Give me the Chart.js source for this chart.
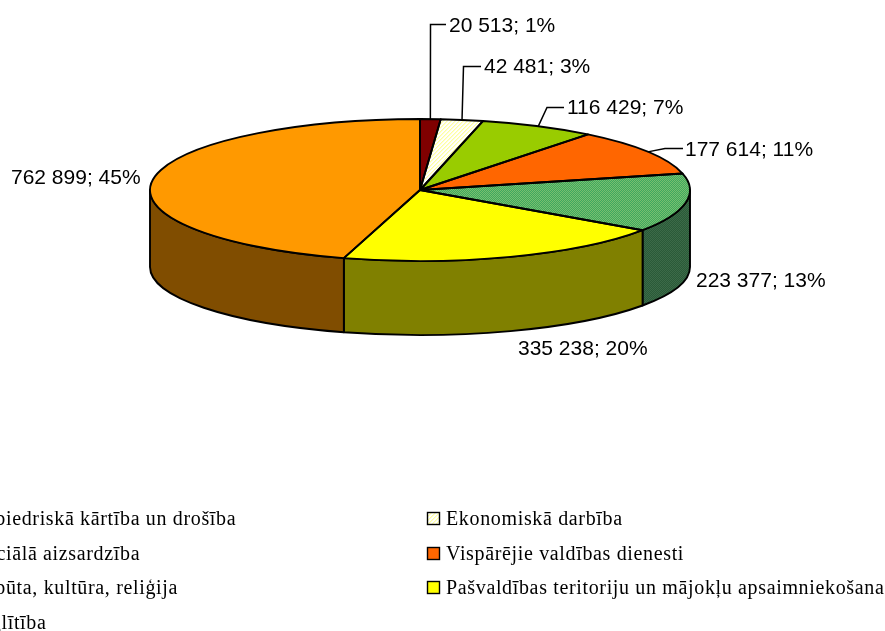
<!DOCTYPE html>
<html><head><meta charset="utf-8">
<style>html,body{margin:0;padding:0;background:#fff;overflow:hidden}canvas{display:block}</style>
<script src="https://cdn.jsdelivr.net/npm/chart.js@4"></script>
</head><body><canvas id="c" width="885" height="631"></canvas>
<script>
const categories = ["Sabiedriskā kārtība un drošība","Ekonomiskā darbība","Sociālā aizsardzība","Vispārējie valdības dienesti","Atpūta, kultūra, reliģija","Pašvaldības teritoriju un mājokļu apsaimniekošana","Izglītība"];
const values = [20513,42481,116429,177614,223377,335238,762899];
const percents = [1,3,7,11,13,20,45];
const valueLabels = ["20 513","42 481","116 429","177 614","223 377","335 238","762 899"];
// label placement: [text left, text middle y], leader elbow points
const labelPos = [[449,26],[484,67],[567,108],[685,150],[696,281],[518,349],[11,178]];
const leaderElbows = [[[430.5,24.5],[446,24.5]],[[463.5,66.5],[481,66.5]],[[547,107.5],[564,107.5]],[[665,148.5],[683,148.5]],null,null,null];
const RX = 270, RY = 71, DEPTH = 77, BOTTOM_RY = 68, K = RY / RX;

function tile(w, h, paint, scaleY){
  const t = document.createElement('canvas'); t.width = w; t.height = h;
  paint(t.getContext('2d'));
  const p = t.getContext('2d').createPattern(t, 'repeat');
  if (scaleY !== 1) p.setTransform(new DOMMatrix().scale(1, scaleY));
  return p;
}
function checker(a, b){ return g => { g.fillStyle = a; g.fillRect(0,0,2,2); g.fillStyle = b; g.fillRect(0,0,1,1); g.fillRect(1,1,1,1); }; }
function stripes(g){ g.fillStyle='#fff'; g.fillRect(0,0,4,4); g.fillStyle='#ffffa0'; g.fillRect(3,0,1,1); g.fillRect(2,1,1,1); g.fillRect(1,2,1,1); g.fillRect(0,3,1,1); g.fillStyle='#ffffd0'; g.fillRect(0,0,1,1); g.fillRect(3,1,1,1); g.fillRect(2,2,1,1); g.fillRect(1,3,1,1);}
const greenTop = checker('#3fa85f','#78bf6e');
const greenSide = checker('#2a5a38','#3c6a48');
const topColors = s => ['#800000', tile(4,4,stripes,s), '#99cc00', '#ff6600', tile(2,2,greenTop,s), '#ffff00', '#ff9900'];
const sliceColors = topColors(1/K);
const legendColors = topColors(1);
const sideColors = ['#400000','#808050','#4d6600','#803300',tile(2,2,greenSide,1),'#808000','#804d00'];

const pie3d = {
  id:'pie3d',
  beforeDatasetsDraw(chart){
    const ctx = chart.ctx, arcs = chart.getDatasetMeta(0).data;
    ctx.save(); ctx.lineWidth = 1.9; ctx.strokeStyle = '#000'; ctx.lineJoin='round';
    arcs.forEach((arc,i)=>{
      const a = Math.max(arc.startAngle,0), b = Math.min(arc.endAngle,Math.PI);
      if (b <= a) return;
      ctx.beginPath();
      ctx.ellipse(arc.x,arc.y,arc.outerRadius,arc.outerRadius*K,0,a,b);
      ctx.ellipse(arc.x,arc.y+DEPTH,arc.outerRadius,BOTTOM_RY,0,b,a,true);
      ctx.closePath();
      ctx.fillStyle = sideColors[i]; ctx.fill(); ctx.stroke();
    });
    ctx.restore();
  },
  beforeDatasetDraw(chart){
    const ctx = chart.ctx, arc = chart.getDatasetMeta(0).data[0];
    ctx.save(); ctx.imageSmoothingEnabled = false;
    ctx.translate(arc.x,arc.y); ctx.scale(1,K); ctx.translate(-arc.x,-arc.y);
  },
  afterDatasetDraw(chart){
    const ctx = chart.ctx, arcs = chart.getDatasetMeta(0).data;
    ctx.restore();
    ctx.save(); ctx.lineWidth = 1.9; ctx.strokeStyle='#000'; ctx.lineJoin='round';
    arcs.forEach(arc=>{
      ctx.beginPath(); ctx.moveTo(arc.x,arc.y);
      ctx.ellipse(arc.x,arc.y,arc.outerRadius,arc.outerRadius*K,0,arc.startAngle,arc.endAngle);
      ctx.closePath(); ctx.stroke();
    });
    ctx.restore();
  },
  afterDatasetsDraw(chart){
    const ctx = chart.ctx, arcs = chart.getDatasetMeta(0).data;
    ctx.save();
    ctx.textBaseline='middle'; ctx.textAlign='left'; ctx.fillStyle='#000'; ctx.strokeStyle='#000'; ctx.lineWidth=1.5;
    ctx.font='21px "Liberation Sans"';
    arcs.forEach((arc,i)=>{
      if (leaderElbows[i]){
        const m = (arc.startAngle+arc.endAngle)/2;
        ctx.beginPath();
        ctx.moveTo(arc.x+arc.outerRadius*Math.cos(m), arc.y+arc.outerRadius*K*Math.sin(m));
        leaderElbows[i].forEach(p=>ctx.lineTo(p[0],p[1]));
        ctx.stroke();
      }
      ctx.fillText(valueLabels[i]+'; '+percents[i]+'%', labelPos[i][0], labelPos[i][1]);
    });
    // legend, two columns
    const colText = [-26,446], colBox = [-38,427], rowY = [518,553,587,622];
    ctx.font='20px "Liberation Serif"';
    ctx.letterSpacing='0.65px';
    categories.forEach((c,i)=>{
      const col = i%2, y = rowY[Math.floor(i/2)];
      ctx.fillStyle = legendColors[i]; ctx.fillRect(colBox[col]+.5,y-5.5,12,12);
      ctx.strokeStyle='#000'; ctx.lineWidth=1.4; ctx.strokeRect(colBox[col]+.5,y-5.5,12,12);
      ctx.fillStyle='#000'; ctx.fillText(c,colText[col],y+1.5);
    });
    ctx.restore();
  }
};

new Chart(document.getElementById('c'),{
  type:'pie',
  data:{labels:categories,datasets:[{data:values,backgroundColor:sliceColors,borderWidth:0,clip:false}]},
  options:{
    responsive:false,animation:false,radius:RX,
    layout:{padding:{left:0,right:45,top:0,bottom:251}},
    plugins:{legend:{display:false},tooltip:{enabled:false}}
  },
  plugins:[pie3d]
});
</script></body></html>
